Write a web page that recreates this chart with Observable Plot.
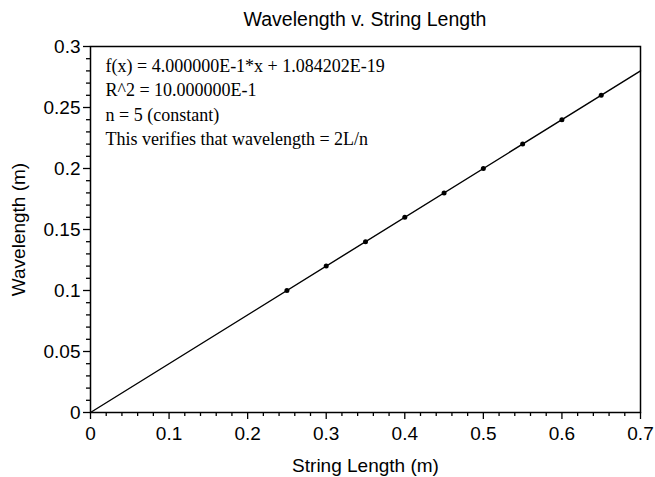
<!DOCTYPE html>
<html>
<head>
<meta charset="utf-8">
<script src="https://cdn.jsdelivr.net/npm/d3@7"></script>
<script src="https://cdn.jsdelivr.net/npm/@observablehq/plot@0.6"></script>
<style>
  body { margin: 0; background: #fff; }
  #title { width: 550px; padding-left: 90px; height: 36px; line-height: 38px; text-align: center;
           font-family: "Liberation Sans", Arial, sans-serif; font-size: 19.5px; color: #000; white-space: nowrap; }
</style>
</head>
<body>
<div id="title">Wavelength v. String Length</div>
<div id="chart"></div>
<script>
const stringLength = [0.25, 0.30, 0.35, 0.40, 0.45, 0.50, 0.55, 0.60, 0.65];
const wavelength   = [0.10, 0.12, 0.14, 0.16, 0.18, 0.20, 0.22, 0.24, 0.26];
const fitX = [0, 0.7];
const fitY = [0, 0.28];
const xMajor = [0, 0.1, 0.2, 0.3, 0.4, 0.5, 0.6, 0.7];
const xMajorLabels = ["0", "0.1", "0.2", "0.3", "0.4", "0.5", "0.6", "0.7"];
const xMinor = [0.02,0.04,0.06,0.08,0.12,0.14,0.16,0.18,0.22,0.24,0.26,0.28,0.32,0.34,0.36,0.38,0.42,0.44,0.46,0.48,0.52,0.54,0.56,0.58,0.62,0.64,0.66,0.68];
const yMajor = [0, 0.05, 0.1, 0.15, 0.2, 0.25, 0.3];
const yMajorLabels = ["0", "0.05", "0.1", "0.15", "0.2", "0.25", "0.3"];
const yMinor = [0.01,0.02,0.03,0.04,0.06,0.07,0.08,0.09,0.11,0.12,0.13,0.14,0.16,0.17,0.18,0.19,0.21,0.22,0.23,0.24,0.26,0.27,0.28,0.29];
const notes = [
  "f(x) = 4.000000E-1*x + 1.084202E-19",
  "R^2 = 10.000000E-1",
  "n = 5 (constant)",
  "This verifies that wavelength = 2L/n"
];

const points = stringLength.map((x, i) => ({x, y: wavelength[i]}));
const fit = fitX.map((x, i) => ({x, y: fitY[i]}));

const chart = Plot.plot({
  width: 655,
  height: 441,
  marginTop: 10,
  marginBottom: 65,
  marginLeft: 90,
  marginRight: 15,
  style: {fontFamily: "'Liberation Sans', Arial, sans-serif", fontSize: "19px", color: "#000", background: "#fff", overflow: "visible"},
  x: {domain: [0, 0.7]},
  y: {domain: [0, 0.3]},
  marks: [
    Plot.frame({stroke: "#000", strokeWidth: 1.5}),
    Plot.axisX(xMinor, {tickSize: 4, text: null, label: null, strokeWidth: 1.3}),
    Plot.axisX(xMajor, {tickSize: 7, tickPadding: 7, strokeWidth: 1.3, fontSize: 19,
      tickFormat: d => xMajorLabels[xMajor.indexOf(d)],
      label: "String Length (m)", labelAnchor: "center", labelArrow: "none", labelOffset: 59}),
    Plot.axisY(yMinor, {tickSize: 4, text: null, label: null, strokeWidth: 1.3}),
    Plot.axisY(yMajor, {tickSize: 7, tickPadding: 3, strokeWidth: 1.3, fontSize: 19,
      tickFormat: d => yMajorLabels[yMajor.indexOf(d)],
      label: "Wavelength (m)", labelAnchor: "center", labelArrow: "none", labelOffset: 79}),
    Plot.line(fit, {x: "x", y: "y", stroke: "#000", strokeWidth: 1.4}),
    Plot.dot(points, {x: "x", y: "y", r: 2.5, fill: "#000", stroke: "none"}),
    Plot.text([notes.join("\n")], {
      x: 0, y: 0.3, text: d => d,
      dx: 15, dy: 8,
      textAnchor: "start", lineAnchor: "top", lineHeight: 1.36,
      fontFamily: "'Liberation Serif', 'Times New Roman', serif", fontSize: 18
    })
  ]
});
document.getElementById("chart").appendChild(chart);
</script>
</body>
</html>
